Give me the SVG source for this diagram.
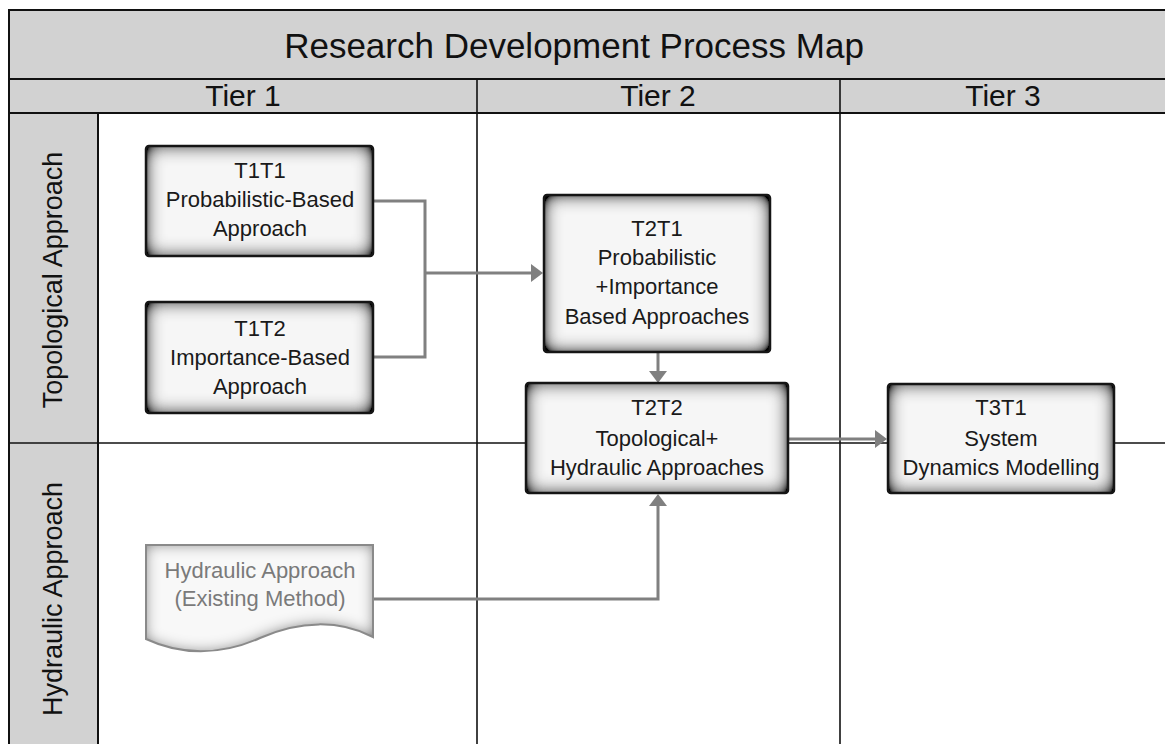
<svg xmlns="http://www.w3.org/2000/svg" width="1165" height="744" viewBox="0 0 1165 744">
  <style>
    .hdr { fill: #d2d2d2; stroke: #111; stroke-width: 2; }
    .grid { stroke: #111; stroke-width: 1.6; fill: none; }
    .htxt { font-family: "Liberation Sans", Arial, sans-serif; fill: #111; text-anchor: middle; }
    .ntxt { font-family: "Liberation Sans", Arial, sans-serif; font-size: 22px; fill: #1a1a1a; text-anchor: middle; }
    .dtxt { font-family: "Liberation Sans", Arial, sans-serif; font-size: 22px; fill: #7a7a7a; text-anchor: middle; }
    .nfill { fill: #f6f6f6; filter: url(#inset); }
    .nedge { fill: none; stroke: #151515; stroke-width: 2.5; }
    .conn { fill: none; stroke: #808080; stroke-width: 3; }
  </style>
  <defs>
    <filter id="inset" x="-10%" y="-10%" width="120%" height="120%">
      <feFlood flood-color="#000" flood-opacity="1" result="f"/>
      <feComposite in="f" in2="SourceAlpha" operator="out" result="outside"/>
      <feGaussianBlur in="outside" stdDeviation="9" result="blur"/>
      <feComponentTransfer in="blur" result="amp">
        <feFuncA type="linear" slope="1.7" intercept="0"/>
      </feComponentTransfer>
      <feComposite in="amp" in2="SourceAlpha" operator="in" result="inner"/>
      <feMerge><feMergeNode in="SourceGraphic"/><feMergeNode in="inner"/></feMerge>
    </filter>
    <filter id="insetLight" x="-10%" y="-10%" width="120%" height="120%">
      <feFlood flood-color="#000" flood-opacity="1" result="f"/>
      <feComposite in="f" in2="SourceAlpha" operator="out" result="outside"/>
      <feGaussianBlur in="outside" stdDeviation="7" result="blur"/>
      <feComponentTransfer in="blur" result="amp">
        <feFuncA type="linear" slope="0.9" intercept="0"/>
      </feComponentTransfer>
      <feComposite in="amp" in2="SourceAlpha" operator="in" result="inner"/>
      <feMerge><feMergeNode in="SourceGraphic"/><feMergeNode in="inner"/></feMerge>
    </filter>
    <marker id="arr" viewBox="0 0 12 18" refX="1" refY="9" markerWidth="12" markerHeight="18" orient="auto" markerUnits="userSpaceOnUse">
      <path d="M0,0 L12,9 L0,18 Z" fill="#808080"/>
    </marker>
  </defs>

  <!-- frame / headers -->
  <g id="frame">
    <rect x="0" y="0" width="1165" height="744" fill="#fff"/>
    <rect class="hdr" x="9" y="10" width="1170" height="69"/>
    <rect class="hdr" x="9" y="79" width="1170" height="34"/>
    <rect class="hdr" x="9" y="113" width="89" height="650"/>
    <line class="grid" x1="477" y1="79" x2="477" y2="744"/>
    <line class="grid" x1="840" y1="79" x2="840" y2="744"/>
    <line class="grid" x1="9" y1="443" x2="1165" y2="443"/>
    <text class="htxt" x="574" y="58" font-size="35">Research Development Process Map</text>
    <text class="htxt" x="243" y="106" font-size="30">Tier 1</text>
    <text class="htxt" x="658" y="106" font-size="30">Tier 2</text>
    <text class="htxt" x="1003" y="106" font-size="30">Tier 3</text>
    <text class="htxt" font-size="27" transform="translate(62,280) rotate(-90)">Topological Approach</text>
    <text class="htxt" font-size="27" transform="translate(62,599) rotate(-90)">Hydraulic Approach</text>
  </g>

  <!-- connectors -->
  <g id="connectors">
    <path class="conn" d="M373,201 H425 V357 H373"/>
    <path class="conn" d="M425,273 H532" marker-end="url(#arr)"/>
    <path class="conn" d="M658,352 V372" marker-end="url(#arr)"/>
    <path class="conn" d="M373,599 H658 V505" marker-end="url(#arr)"/>
    <path class="conn" d="M788,439 H876" marker-end="url(#arr)"/>
  </g>

  <g id="T1T1">
    <rect class="nfill" x="146" y="146" width="227" height="110" rx="3"/>
    <rect class="nedge" x="146" y="146" width="227" height="110" rx="3"/>
    <text class="ntxt" x="260" y="178">T1T1</text>
    <text class="ntxt" x="260" y="207">Probabilistic-Based</text>
    <text class="ntxt" x="260" y="236">Approach</text>
  </g>

  <g id="T1T2">
    <rect class="nfill" x="146" y="302" width="227" height="111" rx="3"/>
    <rect class="nedge" x="146" y="302" width="227" height="111" rx="3"/>
    <text class="ntxt" x="260" y="336">T1T2</text>
    <text class="ntxt" x="260" y="365">Importance-Based</text>
    <text class="ntxt" x="260" y="394">Approach</text>
  </g>

  <g id="T2T1">
    <rect class="nfill" x="544" y="195" width="226" height="157" rx="3"/>
    <rect class="nedge" x="544" y="195" width="226" height="157" rx="3"/>
    <text class="ntxt" x="657" y="236">T2T1</text>
    <text class="ntxt" x="657" y="265">Probabilistic</text>
    <text class="ntxt" x="657" y="294">+Importance</text>
    <text class="ntxt" x="657" y="324">Based Approaches</text>
  </g>

  <g id="T2T2">
    <rect class="nfill" x="526" y="383" width="262" height="110" rx="3"/>
    <rect class="nedge" x="526" y="383" width="262" height="110" rx="3"/>
    <text class="ntxt" x="657" y="415">T2T2</text>
    <text class="ntxt" x="657" y="446">Topological+</text>
    <text class="ntxt" x="657" y="475">Hydraulic Approaches</text>
  </g>

  <g id="T3T1">
    <rect class="nfill" x="888" y="384" width="226" height="109" rx="3"/>
    <rect class="nedge" x="888" y="384" width="226" height="109" rx="3"/>
    <text class="ntxt" x="1001" y="415">T3T1</text>
    <text class="ntxt" x="1001" y="446">System</text>
    <text class="ntxt" x="1001" y="475">Dynamics Modelling</text>
  </g>

  <g id="hydraulic">
    <path d="M146,545 H373 V637 C340,620 300,620 260,638 C220,656 180,655 146,639 Z" fill="#f8f8f8" filter="url(#insetLight)"/>
    <path d="M146,545 H373 V637 C340,620 300,620 260,638 C220,656 180,655 146,639 Z" fill="none" stroke="#8a8a8a" stroke-width="2"/>
    <text class="dtxt" x="260" y="578">Hydraulic Approach</text>
    <text class="dtxt" x="260" y="606">(Existing Method)</text>
  </g>
</svg>
